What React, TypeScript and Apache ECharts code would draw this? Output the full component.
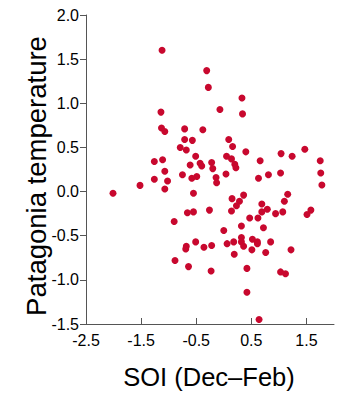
import React, { useEffect, useRef } from "react";
import * as echarts from "echarts";

const soi: number[] = [
  -1.12, -0.31, -0.28, -1.14, -1.13, -1.07, -0.71, -0.38, -0.71, -0.57,
  -0.79, -0.68, -0.51, -1.26, -1.11, -0.61, -0.43, -0.40, -0.22, -0.20,
  -1.07, -0.75, -0.49, -0.58, -1.26, -0.14, -0.13,
  0.33, -0.07, 0.34, 0.09, 0.16, 0.40, 1.47, 1.04, 1.24, 0.05, 0.14, 0.20, 0.22,
  0.66, 1.75, 0.04, 0.63, 0.81, 1.03, 1.76, 1.78,
  0.15, 0.285, 0.36, 0.23, 0.14, -0.26, 1.16, 1.10, 0.69, 0.79, 0.69, 0.94,
  1.07, 1.58, 1.51, 0.47, 0.62, 0.32, 0.72, 0.00, 0.32, 0.52, 0.61, 0.61,
  0.85, 0.32, 0.36, 0.18, 0.06, 0.19, 0.51, 0.76, 1.22, -0.22, -0.23, 0.42,
  1.03, 1.12, 0.42, 0.64,
  -2.01, -1.52, -1.02, -1.07, -0.55, -0.66, -0.55, -0.90, -0.51, -0.68,
  -0.69, -0.36, -0.885, -0.64,
];

const temperature: number[] = [
  1.60, 1.37, 1.18, 0.90, 0.72, 0.68, 0.71, 0.70, 0.59, 0.58,
  0.50, 0.47, 0.40, 0.34, 0.36, 0.30, 0.32, 0.29, 0.33, 0.26,
  0.23, 0.19, 0.17, 0.15, 0.14, 0.16, 0.10,
  1.06, 0.93, 0.88, 0.59, 0.51, 0.45, 0.48, 0.43, 0.40, 0.40, 0.37, 0.31, 0.27,
  0.35, 0.35, 0.20, 0.15, 0.19, 0.21, 0.21, 0.075,
  -0.08, -0.11, -0.04, -0.16, -0.22, -0.21, -0.03, -0.11, -0.14, -0.20, -0.23, -0.25,
  -0.23, -0.21, -0.26, -0.30, -0.30, -0.39, -0.41, -0.44, -0.52, -0.54, -0.57, -0.59,
  -0.57, -0.57, -0.62, -0.57, -0.59, -0.71, -0.66, -0.69, -0.66, -0.61, -0.90, -0.87,
  -0.91, -0.93, -1.14, -1.45,
  -0.02, 0.07, 0.12, 0.03, -0.02, -0.24, -0.23, -0.34, -0.57, -0.62,
  -0.65, -0.63, -0.78, -0.85,
];

const xTicks: number[] = [-2.5, -1.5, -0.5, 0.5, 1.5];
const yTicks: number[] = [-1.5, -1.0, -0.5, 0.0, 0.5, 1.0, 1.5, 2.0];

const xTitle = "SOI (Dec\u2013Feb)";
const yTitle = "Patagonia temperature";

export default function App() {
  const ref = useRef<HTMLDivElement>(null);

  useEffect(() => {
    if (!ref.current) return;
    const chart = echarts.init(ref.current, null, { renderer: "svg" });
    const points = soi.map((x, i) => [x, temperature[i]]);
    const font = "'Liberation Sans', Arial, Helvetica, sans-serif";
    chart.setOption({
      animation: false,
      backgroundColor: "#ffffff",
      grid: { left: 86, top: 15, width: 248, height: 309, containLabel: false },
      xAxis: {
        type: "value",
        min: -2.5,
        max: 2.0,
        interval: 1,
        axisLine: { show: true, onZero: false, lineStyle: { color: "#555555", width: 1 } },
        axisTick: { show: true, inside: true, length: 6, customValues: xTicks, lineStyle: { color: "#555555" } },
        axisLabel: {
          customValues: xTicks,
          margin: 8,
          fontSize: 16,
          color: "#000000",
          fontFamily: font,
          formatter: (v: number) => v.toFixed(1),
        },
        splitLine: { show: false },
      },
      yAxis: {
        type: "value",
        min: -1.5,
        max: 2.0,
        interval: 0.5,
        axisLine: { show: true, onZero: false, lineStyle: { color: "#555555", width: 1 } },
        axisTick: { show: true, inside: false, length: 6, customValues: yTicks, lineStyle: { color: "#555555" } },
        axisLabel: {
          customValues: yTicks,
          margin: 7,
          fontSize: 16,
          color: "#000000",
          fontFamily: font,
          formatter: (v: number) => v.toFixed(1),
        },
        splitLine: { show: false },
      },
      graphic: [
        {
          type: "text",
          x: 36,
          y: 176,
          rotation: Math.PI / 2,
          style: {
            text: yTitle,
            fontSize: 27.5,
            fontFamily: font,
            fill: "#000000",
            textAlign: "center",
            textVerticalAlign: "middle",
          },
        },
        {
          type: "text",
          x: 209,
          y: 377,
          style: {
            text: xTitle,
            fontSize: 25.5,
            fontFamily: font,
            fill: "#000000",
            textAlign: "center",
            textVerticalAlign: "middle",
          },
        },
      ],
      series: [
        {
          type: "scatter",
          data: points,
          symbol: "circle",
          symbolSize: 7,
          itemStyle: { color: "#c8082e", opacity: 1 },
        },
      ],
    });
    return () => chart.dispose();
  }, []);

  return <div ref={ref} style={{ width: 360, height: 400, margin: -8 }} />;
}
